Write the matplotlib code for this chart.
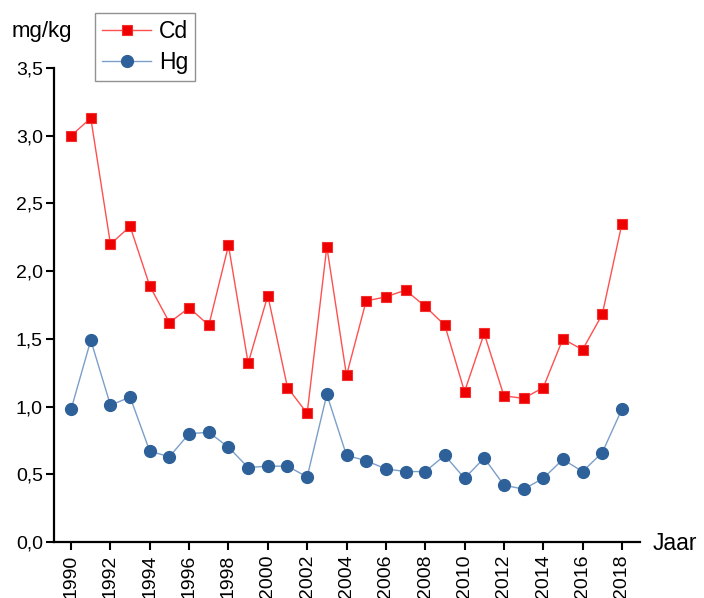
import matplotlib
matplotlib.use("Agg")
import matplotlib.pyplot as plt

plt.rcParams['font.family'] = ['Liberation Sans', 'DejaVu Sans']

years = list(range(1990, 2019))
cd = [3.00, 3.13, 2.20, 2.33, 1.89, 1.62, 1.73, 1.60, 2.19, 1.32,
      1.82, 1.14, 0.95, 2.18, 1.23, 1.78, 1.81, 1.86, 1.74, 1.60,
      1.11, 1.54, 1.08, 1.06, 1.14, 1.50, 1.42, 1.68, 2.35]
hg = [0.98, 1.49, 1.01, 1.07, 0.67, 0.63, 0.80, 0.81, 0.70, 0.55,
      0.56, 0.56, 0.48, 1.09, 0.64, 0.60, 0.54, 0.52, 0.52, 0.64,
      0.47, 0.62, 0.42, 0.39, 0.47, 0.61, 0.52, 0.66, 0.98]
yticks = [0.0, 0.5, 1.0, 1.5, 2.0, 2.5, 3.0, 3.5]
xticks = list(range(1990, 2019, 2))

fig = plt.figure(figsize=(7.04, 5.98), dpi=100)
ax = fig.add_axes([54/704, 56/598, 586/704, 474/598])

ax.plot(years, cd, color='#ff5050', lw=1.0, marker='s', markersize=7.5,
        markerfacecolor='#ee0000', markeredgecolor='#f23030', markeredgewidth=0.8, label='Cd')
ax.plot(years, hg, color='#7b9fc9', lw=1.0, marker='o', markersize=8.5,
        markerfacecolor='#2e6199', markeredgecolor='#2e6199', label='Hg')

ax.set_xlim(1989.13, 2018.92)
ax.set_ylim(0, 3.5)
ax.set_yticks(yticks)
ax.set_yticklabels([f"{v:.1f}".replace('.', ',') for v in yticks])
ax.set_xticks(xticks)
ax.set_xticklabels([str(x) for x in xticks], rotation=90)
ax.tick_params(axis='both', direction='out', length=6, width=1.5, labelsize=14,
               colors='black', pad=3)
ax.tick_params(axis='y', pad=2)
for s in ['top', 'right']:
    ax.spines[s].set_visible(False)
for s in ['left', 'bottom']:
    ax.spines[s].set_linewidth(1.6)

fig.text(12/704, 1 - 32/598, 'mg/kg', fontsize=16, va='center', ha='left')
fig.text(653/704, 1 - 543/598, 'Jaar', fontsize=16.5, va='center', ha='left')

leg = fig.legend(loc='upper left', bbox_to_anchor=(95/704, 1 - 13/598), fontsize=16.5,
                 frameon=True, fancybox=False, edgecolor='#777777', handlelength=2.15,
                 borderpad=0.3, labelspacing=0.35, handletextpad=0.35, borderaxespad=0)
leg.get_frame().set_linewidth(1.0)

fig.savefig('out.png', dpi=100)
